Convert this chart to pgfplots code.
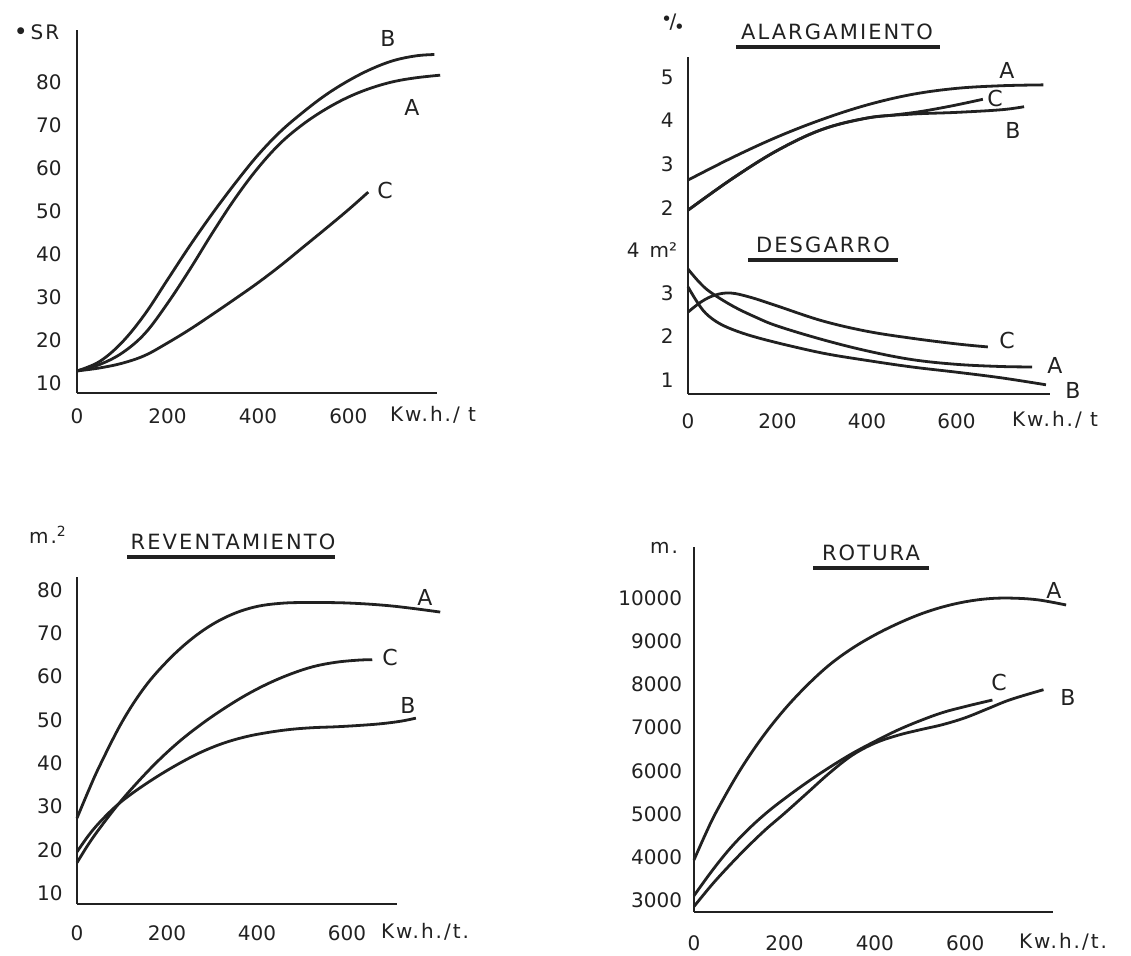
\documentclass[border=0pt]{standalone}
\usepackage{fontspec}
\setmainfont{DejaVu Sans}
\newfontfamily\lab[LetterSpace=10]{DejaVu Sans}
\newfontfamily\plain{DejaVu Sans}
\usepackage{pgfplots}
\pgfplotsset{compat=1.18}
\definecolor{ink}{gray}{0.13}
\pgfplotsset{
 base/.style={
  scale only axis, clip=false,
  axis x line*=bottom, axis y line*=left,
  axis line style={-, line width=1.4pt, ink},
  major tick length=0pt, tick style={draw=none},
  xtick={0,200,400,600},
  scaled x ticks=false, scaled y ticks=false,
  tick label style={font=\fontsize{10}{12}\selectfont, text=ink, inner sep=0pt},
  /pgf/number format/assume math mode=true,
  /pgf/number format/1000 sep={},
  xticklabel style={anchor=north},
  yticklabel style={anchor=east},
 },
 curve/.style={smooth, tension=0.6, line width=1.4pt, ink},
}
\newcommand{\dotc}[1]{{\plain\fontsize{#1}{#1}\selectfont ●}}
\begin{document}
\begin{tikzpicture}
% ---------- Panel 1 : SR ----------
\begin{axis}[base, at={(38.5pt,-196.5pt)}, anchor=south west,
  width=180pt, height=181.5pt, xmin=0, xmax=796, ymin=7.67, ymax=92.1,
  ytick={10,20,...,80}, xticklabel style={yshift=-7.5pt}, yticklabel style={xshift=-7.5pt}]
% B
\addplot[curve] coordinates {(0,12.8) (50,15) (100,19.5) (150,26) (200,34) (250,42) (300,49.5) (350,56.5) (400,63) (450,68.5) (500,73) (550,77) (600,80.3) (650,83) (700,85) (750,86.1) (790,86.4)};
% A
\addplot[curve] coordinates {(0,12.8) (50,14.3) (100,17) (150,21.5) (200,28.5) (250,36.5) (300,45) (350,53) (400,60) (450,65.8) (500,70.2) (550,73.7) (600,76.5) (650,78.6) (700,80.1) (750,81.0) (803,81.6)};
% C
\addplot[curve] coordinates {(0,12.8) (50,13.5) (100,14.6) (150,16.4) (200,19.3) (250,22.5) (300,26) (350,29.6) (400,33.3) (450,37.3) (500,41.6) (550,45.9) (600,50.3) (644,54.4)};
\end{axis}
% ---------- Panel 2 upper : ALARGAMIENTO ----------
\begin{axis}[base, axis x line=none, xtick=\empty, at={(344pt,-117.5pt)}, anchor=south west,
  width=181pt, height=89pt, xmin=0, xmax=809, ymin=1.382, ymax=5.458,
  ytick={2,3,4,5}, yticklabel style={xshift=-7pt}]
% A
\addplot[curve] coordinates {(0,2.64) (100,3.16) (200,3.63) (300,4.03) (400,4.36) (500,4.6) (600,4.74) (700,4.80) (794,4.82)};
% B
\addplot[curve] coordinates {(0,1.95) (100,2.68) (200,3.32) (300,3.8) (400,4.06) (500,4.15) (600,4.19) (700,4.25) (751,4.32)};
% C
\addplot[curve] coordinates {(0,1.95) (100,2.68) (200,3.32) (300,3.8) (400,4.06) (460,4.13) (520,4.21) (590,4.34) (659,4.49)};
\end{axis}
% ---------- Panel 2 lower : DESGARRO ----------
\begin{axis}[base, at={(344pt,-197pt)}, anchor=south west,
  width=181pt, height=79.5pt, xmin=0, xmax=809, ymin=0.678, ymax=4.333,
  ytick={1,2,3}, xticklabel style={yshift=-9.5pt}, yticklabel style={xshift=-7pt}]
% A
\addplot[curve] coordinates {(0,3.55) (25,3.25) (50,3.02) (100,2.7) (150,2.45) (200,2.24) (300,1.93) (400,1.67) (500,1.47) (600,1.36) (700,1.31) (769,1.30)};
% B
\addplot[curve] coordinates {(0,3.14) (20,2.8) (40,2.53) (70,2.3) (110,2.12) (160,1.96) (230,1.78) (310,1.6) (400,1.45) (500,1.3) (600,1.18) (700,1.05) (800,0.89)};
% C
\addplot[curve] coordinates {(0,2.56) (30,2.8) (60,2.95) (95,3.0) (140,2.9) (200,2.7) (300,2.36) (400,2.12) (500,1.96) (600,1.83) (670,1.76)};
\end{axis}
% ---------- Panel 3 : REVENTAMIENTO ----------
\begin{axis}[base, at={(38.5pt,-452pt)}, anchor=south west,
  width=160pt, height=163.5pt, xmin=0, xmax=711, ymin=7.46, ymax=83.0,
  ytick={10,20,...,80}, xticklabel style={yshift=-10.5pt}, yticklabel style={xshift=-7pt}]
% A
\addplot[curve] coordinates {(0,27.3) (25,33.5) (50,39.3) (100,49.5) (150,57.5) (200,63.5) (250,68.3) (300,72) (350,74.6) (400,76.2) (450,76.9) (500,77.1) (600,77.0) (700,76.3) (807,74.9)};
% C
\addplot[curve] coordinates {(0,17) (25,21.2) (50,24.9) (87,29.9) (125,34.5) (175,40) (225,44.8) (275,48.9) (325,52.5) (375,55.7) (425,58.4) (475,60.6) (525,62.3) (575,63.3) (625,63.8) (656,63.9)};
% B
\addplot[curve] coordinates {(0,19.5) (25,23.2) (50,26.3) (87,30.1) (125,33.2) (175,36.7) (225,39.8) (275,42.5) (325,44.6) (375,46.1) (425,47.1) (475,47.8) (525,48.2) (575,48.4) (625,48.7) (675,49.1) (720,49.7) (753,50.4)};
\end{axis}
% ---------- Panel 4 : ROTURA ----------
\begin{axis}[base, at={(347pt,-456pt)}, anchor=south west,
  width=179.5pt, height=182.5pt, xmin=0, xmax=794, ymin=2722, ymax=11190,
  ytick={3000,4000,...,10000}, xticklabel style={yshift=-11.5pt}, yticklabel style={xshift=-5.75pt}]
% A
\addplot[curve] coordinates {(0,3930) (25,4520) (50,5060) (100,5980) (150,6760) (200,7420) (250,7980) (300,8460) (350,8840) (400,9150) (450,9410) (500,9630) (550,9800) (600,9920) (650,9990) (700,10005) (760,9965) (823,9845)};
% C
\addplot[curve] coordinates {(0,3100) (40,3680) (80,4200) (120,4640) (160,5020) (200,5350) (250,5730) (300,6080) (350,6400) (400,6680) (450,6940) (500,7160) (550,7350) (600,7490) (660,7640)};
% B
\addplot[curve] coordinates {(0,2850) (40,3360) (80,3820) (120,4250) (160,4650) (200,5010) (250,5480) (300,5950) (350,6360) (400,6640) (450,6820) (500,6950) (550,7070) (600,7230) (650,7440) (700,7650) (773,7880)};
\end{axis}
% ---------- annotations (pixel grid) ----------
\begin{scope}[x=0.5pt, y=-0.5pt, every node/.style={text=ink, inner sep=0pt}]
\useasboundingbox (0,0) rectangle (1131,955);
\tikzset{let/.style={font=\fontsize{11}{13}\selectfont},
         ttl/.style={font=\fontsize{10.5}{12}\selectfont\lab},
         unit/.style={font=\fontsize{10}{12}\selectfont\lab}}
% panel 1
\node[unit] at (38,32) {\raisebox{0.55ex}{\dotc{4.5}}\hspace{3pt}SR};
\node[let] at (388,38) {B};
\node[let] at (412,107) {A};
\node[let] at (385,190) {C};
\node[unit] at (433,415) {Kw.h./ t};
% panel 2
\node[unit] at (673,22) {\raisebox{0.7ex}{\dotc{3.5}}/\dotc{3.5}};
\node[ttl] at (837,32) {ALARGAMIENTO};
\draw[line width=1.8pt, ink] (736,47) -- (940,47);
\node[let] at (1007,70) {A};
\node[let] at (995,98) {C};
\node[let] at (1013,130) {B};
\node[ttl] at (823,245) {DESGARRO};
\draw[line width=1.8pt, ink] (748,260) -- (898,260);
\node[font=\fontsize{10}{12}\selectfont] at (652,250) {4\hspace{5pt}m²};
\node[let] at (1007,340) {C};
\node[let] at (1055,365) {A};
\node[let] at (1073,390) {B};
\node[unit] at (1055,420) {Kw.h./ t};
% panel 3
\node[unit] at (48,535) {m.\textsuperscript{2}};
\node[ttl] at (233,542) {REVENTAMIENTO};
\draw[line width=1.8pt, ink] (127,557) -- (335,557);
\node[let] at (425,597) {A};
\node[let] at (390,657) {C};
\node[let] at (408,705) {B};
\node[unit] at (425,932) {Kw.h./t.};
% panel 4
\node[unit] at (664,548) {m.};
\node[ttl] at (871,553) {ROTURA};
\draw[line width=1.8pt, ink] (813,568) -- (929,568);
\node[let] at (1054,590) {A};
\node[let] at (999,682) {C};
\node[let] at (1068,697) {B};
\node[unit] at (1063,942) {Kw.h./t.};
\end{scope}
\end{tikzpicture}
\end{document}
